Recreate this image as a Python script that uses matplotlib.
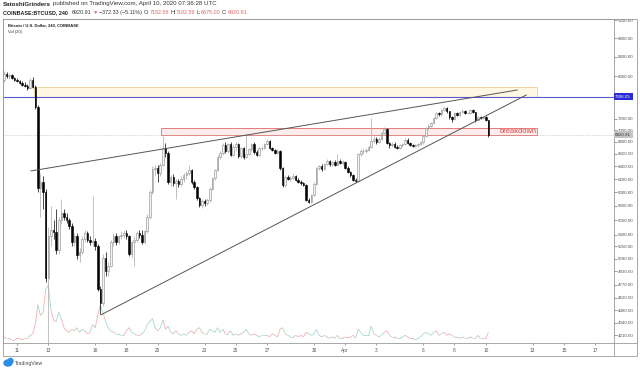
import numpy as np
import matplotlib
matplotlib.use("Agg")
import matplotlib.pyplot as plt
from matplotlib.patches import Rectangle, Ellipse
from matplotlib.collections import LineCollection
from matplotlib.lines import Line2D
from matplotlib.ticker import FixedLocator, FixedFormatter, NullLocator
from matplotlib.transforms import blended_transform_factory

plt.rcParams['font.family'] = ['Liberation Sans', 'DejaVu Sans']

# COINBASE:BTCUSD 4h candles, first bar Mar 10 04:00 UTC (one row per day)
opens = [
    7920, 8050, 8000, 8030, 7960,
    7930, 7900, 7870, 7840, 7810, 7780,
    7930, 7800, 7420, 6060, 6150, 6000,
    4850, 5380, 5470, 5440, 5200, 5600,
    5700, 5650, 5600, 5520, 5300, 5380,
    5130, 5180, 5340, 5420, 5330, 5300,
    5320, 5250, 4720, 4560, 5100, 4930,
    5000, 5300, 5380, 5300, 5380, 5400,
    5420, 5380, 5150, 5300, 5330, 5420,
    5400, 5300, 5450, 5650, 6000, 6350,
    6380, 6300, 6420, 6700, 6620, 6160,
    6240, 6135, 6165, 6120, 6200, 6270,
    6300, 6340, 6160, 6085, 5910, 5815,
    5870, 5850, 5880, 6050, 6210, 6343,
    6555, 6610, 6750, 6650, 6760, 6590,
    6720, 6760, 6570, 6700, 6550, 6600,
    6680, 6760, 6630, 6590, 6690, 6700,
    6760, 6810, 6700, 6660, 6620, 6650,
    6370, 6110, 6240, 6200, 6220, 6250,
    6190, 6160, 6135, 6110, 5890, 5860,
    5960, 6130, 6370, 6400, 6360, 6440,
    6480, 6430, 6470, 6420, 6480, 6450,
    6470, 6380, 6310, 6260, 6190, 6170,
    6600, 6640, 6650, 6660, 6720, 6820,
    6850, 6800, 6850, 6950, 7020, 6780,
    6740, 6770, 6720, 6700, 6740, 6760,
    6840, 6780, 6750, 6730, 6740, 6760,
    6790, 6900, 7030, 7080, 7120, 7220,
    7310, 7280, 7360, 7390, 7340, 7230,
    7200, 7300, 7270, 7330, 7350, 7300,
    7310, 7360, 7320, 7180, 7230, 7210,
    7230, 7182.56,
]
highs = [
    8100, 8080, 8060, 8050, 7990,
    7960, 7930, 7900, 7880, 7850, 7960,
    7980, 7830, 7450, 6300, 6250, 6050,
    5500, 5800, 5600, 5750, 5650, 5900,
    5750, 5700, 5630, 5560, 5420, 5420,
    5220, 5380, 5460, 5450, 5380, 5950,
    5360, 5280, 4760, 5150, 5180, 5050,
    5330, 5420, 5420, 5400, 5450, 5460,
    5460, 5400, 5320, 5380, 5450, 5460,
    5470, 5470, 5680, 6030, 6400, 6420,
    6420, 6460, 6900, 6780, 6650, 6260,
    6280, 6200, 6200, 6250, 6300, 6330,
    6420, 6360, 6180, 6100, 5930, 5900,
    5900, 5920, 6080, 6230, 6360, 6580,
    6640, 6780, 6800, 6780, 6790, 6760,
    6790, 6780, 6720, 6720, 6940, 6700,
    6780, 6790, 6660, 6710, 6730, 6780,
    6850, 6830, 6720, 6680, 6680, 6670,
    6390, 6260, 6270, 6250, 6290, 6270,
    6210, 6180, 6150, 6130, 5910, 5980,
    6150, 6390, 6420, 6430, 6460, 6520,
    6500, 6490, 6500, 6600, 6520, 6500,
    6490, 6400, 6330, 6280, 6220, 6620,
    6680, 6700, 6690, 6750, 7220, 6900,
    6880, 6880, 6970, 7050, 7030, 6800,
    6800, 6790, 6740, 6760, 6780, 6870,
    6860, 6800, 6770, 6760, 6780, 6810,
    6920, 7050, 7100, 7140, 7240, 7330,
    7330, 7380, 7420, 7410, 7350, 7250,
    7320, 7320, 7350, 7380, 7360, 7330,
    7380, 7370, 7330, 7250, 7260, 7240,
    7260, 7182.56,
]
lows = [
    7880, 7960, 7950, 7940, 7900,
    7880, 7850, 7820, 7790, 7740, 7760,
    7780, 7380, 6000, 5650, 5750, 4800,
    3860, 5250, 5350, 5150, 5150, 5550,
    5600, 5560, 5480, 5250, 5250, 5080,
    5050, 5150, 5300, 5300, 5260, 5250,
    5200, 4700, 4440, 4520, 4880, 4880,
    4980, 5250, 5260, 5280, 5340, 5360,
    5350, 5120, 5100, 5000, 5300, 5360,
    5280, 5280, 5420, 5620, 5980, 6250,
    6150, 6250, 6400, 6550, 6120, 6100,
    6100, 5900, 6080, 6100, 6150, 6200,
    6260, 6130, 6050, 5880, 5780, 5770,
    5800, 5820, 5860, 6030, 6190, 6320,
    6520, 6590, 6620, 6620, 6560, 6570,
    6640, 6540, 6530, 6520, 6530, 6580,
    6650, 6600, 6560, 6570, 6660, 6680,
    6740, 6680, 6640, 6600, 6600, 6340,
    6080, 6080, 6180, 6170, 6200, 6170,
    6140, 6110, 6090, 5870, 5850, 5850,
    5940, 6110, 6340, 6330, 6340, 6420,
    6400, 6400, 6400, 6400, 6430, 6420,
    6360, 6290, 6240, 6170, 6150, 6160,
    6560, 6600, 6610, 6640, 6700, 6780,
    6770, 6780, 6830, 6930, 6760, 6700,
    6720, 6690, 6680, 6680, 6720, 6740,
    6760, 6730, 6710, 6710, 6720, 6740,
    6770, 6880, 7000, 7050, 7100, 7200,
    7250, 7260, 7340, 7310, 7200, 7150,
    7180, 7250, 7250, 7310, 7280, 7280,
    7290, 7300, 7150, 7160, 7190, 7190,
    7170, 6875,
]
closes = [
    8050, 8000, 8030, 7960, 7930,
    7900, 7870, 7840, 7810, 7780, 7930,
    7800, 7420, 6060, 6150, 6000, 4850,
    5380, 5470, 5440, 5200, 5600, 5700,
    5650, 5600, 5520, 5300, 5380, 5130,
    5180, 5340, 5420, 5330, 5300, 5320,
    5250, 4720, 4560, 5100, 4930, 5000,
    5300, 5380, 5300, 5380, 5400, 5420,
    5380, 5150, 5300, 5330, 5420, 5400,
    5300, 5450, 5650, 6000, 6350, 6380,
    6300, 6420, 6700, 6620, 6160, 6240,
    6135, 6165, 6120, 6200, 6270, 6300,
    6340, 6160, 6085, 5910, 5815, 5870,
    5850, 5880, 6050, 6210, 6343, 6555,
    6610, 6750, 6650, 6760, 6590, 6720,
    6760, 6570, 6700, 6550, 6600, 6680,
    6760, 6630, 6590, 6690, 6700, 6760,
    6810, 6700, 6660, 6620, 6650, 6370,
    6110, 6240, 6200, 6220, 6250, 6190,
    6160, 6135, 6110, 5890, 5860, 5960,
    6130, 6370, 6400, 6360, 6440, 6480,
    6430, 6470, 6420, 6480, 6450, 6470,
    6380, 6310, 6260, 6190, 6170, 6600,
    6640, 6650, 6660, 6720, 6820, 6850,
    6800, 6850, 6950, 7020, 6780, 6740,
    6770, 6720, 6700, 6740, 6760, 6840,
    6780, 6750, 6730, 6740, 6760, 6790,
    6900, 7030, 7080, 7120, 7220, 7310,
    7280, 7360, 7390, 7340, 7230, 7200,
    7300, 7270, 7330, 7350, 7300, 7310,
    7360, 7320, 7180, 7230, 7210, 7230,
    7182.56, 6920.91,
]
# volume in thousand BTC
volumes = [
    4, 3, 3, 2, 2,
    3, 3, 2, 3, 3, 5,
    6, 12, 25, 18, 20, 35,
    38, 22, 15, 14, 20, 16,
    10, 8, 7, 9, 8, 10,
    7, 9, 8, 6, 7, 12,
    10, 18, 25, 20, 14, 10,
    8, 7, 6, 6, 5, 5,
    8, 10, 7, 6, 5, 5,
    6, 8, 12, 14, 16, 10,
    8, 10, 15, 9, 11, 7,
    6, 8, 6, 5, 6, 5,
    7, 8, 6, 9, 10, 7,
    6, 6, 9, 8, 7, 10,
    7, 9, 6, 6, 8, 5,
    6, 5, 6, 7, 9, 6,
    5, 6, 5, 4, 5, 5,
    5, 4, 6, 5, 4, 9,
    10, 6, 5, 4, 4, 5,
    4, 5, 4, 7, 6, 5,
    6, 9, 5, 4, 5, 4,
    3, 4, 3, 5, 3, 3,
    4, 4, 4, 5, 3, 9,
    7, 5, 5, 5, 11, 6,
    5, 4, 5, 7, 8, 5,
    4, 4, 3, 3, 4, 5,
    4, 3, 3, 2, 3, 4,
    6, 7, 6, 5, 7, 8,
    5, 6, 7, 5, 6, 5,
    4, 4, 3, 4, 3, 3,
    4, 3, 3, 5, 3, 3,
    3, 7,
]

# x axis: day number counted from Mar 0 (Apr 1 = 32)
date_ticks = [11, 13, 16, 18, 20, 23, 25, 27, 30, 32, 34, 37, 39, 41, 44, 46, 48]
date_labels = ['11', '13', '16', '18', '20', '23', '25', '27', '30', 'Apr',
               '3', '6', '8', '10', '13', '15', '17']
price_ticks = [9200, 8800, 8400, 8000, 7200, 7000, 6800, 6600, 6400, 6200, 6000,
               5800, 5600, 5400, 5250, 5090, 4930, 4770, 4620, 4480, 4340, 4210]

# drawings
resistance_level = 7606.05
last_price = 6920.91
resistance_zone = [12.09, 44.29, 7606.05, 7800]   # t0, t1, low, high
breakdown_zone = [20.2, 44.29, 6912, 7040]
upper_trend = [[11.89, 43.01], [6327, 7734]]
lower_trend = [[16.37, 43.59], [4427, 7639]]

W, H = 640, 370


def fx(px):
    return px / W


def fy(py):
    return 1 - py / H


fig = plt.figure(figsize=(6.4, 3.7), dpi=100)
fig.patch.set_facecolor('white')
ax = fig.add_axes([fx(3), fy(343), fx(614) - fx(3), fy(19) - fy(343)])

o = np.array(opens, float)
h = np.array(highs, float)
l = np.array(lows, float)
c = np.array(closes, float)
v = np.array(volumes, float)
t = 10 + 4 / 24 + np.arange(len(o)) / 6
up = c >= o

# volume line (bottom pane, axes fraction)
vt = ax.get_xaxis_transform()
pts = np.column_stack([t, v / 212.0])
segs = np.stack([pts[:-1], pts[1:]], axis=1)
vcol = ['#a9d8cf' if u else '#f2b0b0' for u in up[1:]]
ax.add_collection(LineCollection(segs, colors=vcol, linewidths=0.6,
                                 transform=vt, zorder=1))

# candles
ax.vlines(t[up], l[up], h[up], color='#a8a8a8', lw=0.5, zorder=3)
ax.vlines(t[~up], l[~up], h[~up], color='black', lw=0.5, zorder=3)
bot = np.minimum(o, c)
hgt = np.maximum(np.abs(c - o), 6)
ax.bar(t[up], hgt[up], bottom=bot[up], width=0.1, facecolor='#f4f4f4',
       edgecolor='#8a8a8a', linewidth=0.4, zorder=4)
ax.bar(t[~up], hgt[~up], bottom=bot[~up], width=0.1, facecolor='black',
       edgecolor='black', linewidth=0.4, zorder=4)

# zones and lines
t0, t1, lo, hi = resistance_zone
ax.add_patch(Rectangle((t0, lo), t1 - t0, hi - lo, facecolor='#fff6e3',
                       edgecolor='#f3cf98', lw=0.6, zorder=2))
t0, t1, lo, hi = breakdown_zone
ax.add_patch(Rectangle((t0, lo), t1 - t0, hi - lo, facecolor='#fdecec',
                       edgecolor='#e26a6a', lw=0.6, zorder=2))
ax.text(43.05, np.sqrt(lo * hi), 'breakdown', color='#e04848',
        fontsize=5.4, ha='center', va='center', zorder=6)
ax.axhline(resistance_level, color='#5a5ad0', lw=0.8, zorder=2)
ax.axhline(last_price, color='#c9a9a9', lw=0.5, ls=(0, (1, 1.5)), zorder=2)
ax.plot(upper_trend[0], upper_trend[1], color='#555555', lw=0.7, zorder=5)
ax.plot(lower_trend[0], lower_trend[1], color='#555555', lw=0.7, zorder=5)

# axes
ax.set_yscale('log')
ax.set_ylim(4128, 9225)
ax.set_xlim(10.1, 49.21)
ax.yaxis.tick_right()
ax.yaxis.set_major_locator(FixedLocator(price_ticks))
ax.yaxis.set_major_formatter(FixedFormatter(['%.2f' % p for p in price_ticks]))
ax.yaxis.set_minor_locator(NullLocator())
ax.set_xticks(date_ticks)
ax.set_xticklabels(date_labels)
ax.tick_params(axis='y', length=2, width=0.4, pad=1, labelsize=3.2,
               colors='#555555')
ax.tick_params(axis='x', length=1.5, width=0.4, pad=2, labelsize=3.4,
               colors='#555555')
for s in ax.spines.values():
    s.set_color('#9a9a9a')
    s.set_linewidth(0.6)

# price labels on the scale
bt = blended_transform_factory(ax.transAxes, ax.transData)
ax.text(1.002, resistance_level, '7606.05', transform=bt, fontsize=3.2,
        color='white', ha='left', va='center', clip_on=False, zorder=10,
        bbox=dict(boxstyle='square,pad=0.35', fc='#2b2bd6', ec='none'))
ax.text(1.002, last_price, '6920.91', transform=bt, fontsize=3.2,
        color='#333333', ha='left', va='center', clip_on=False, zorder=10,
        bbox=dict(boxstyle='square,pad=0.35', fc='#c4c4c4', ec='none'))

# outer frame
fig.add_artist(Rectangle((fx(3), fy(356)), fx(637) - fx(3), fy(19) - fy(356),
                         transform=fig.transFigure, fill=False,
                         edgecolor='#9a9a9a', lw=0.6))
fig.add_artist(Line2D([fx(614), fx(637)], [fy(343), fy(343)],
                      transform=fig.transFigure, color='#9a9a9a', lw=0.6))
fig.add_artist(Line2D([fx(614), fx(614)], [fy(343), fy(356)],
                      transform=fig.transFigure, color='#9a9a9a', lw=0.6))


# header text: pieces chained one after another (text, colour, weight, gap before)
def chain(x, y, parts, size):
    s, col, wt, _ = parts[0]
    prev = fig.text(fx(x), fy(y), s, fontsize=size, color=col, fontweight=wt,
                    ha='left', va='center')
    for s, col, wt, gap in parts[1:]:
        prev = ax.annotate(s, xy=(1, 0.5), xycoords=prev, xytext=(gap, 0),
                           textcoords='offset points', fontsize=size, color=col,
                           fontweight=wt, ha='left', va='center',
                           annotation_clip=False)


red = '#e06666'
ink = '#333333'
chain(3, 4, [('SatoshiGrinders', '#222222', 'bold', 0),
             ('published on TradingView.com, April 10, 2020 07:36:28 UTC',
              ink, 'normal', 1.2)], 4.4)
chain(3, 12.5, [('COINBASE:BTCUSD, 240', '#222222', 'bold', 0),
                ('6920.91', ink, 'normal', 2.6),
                ('\u25bc', red, 'normal', 1.0),
                ('\u2212372.33 (\u22125.11%)', ink, 'normal', 1.0),
                ('O:', ink, 'normal', 1.0), ('7182.56', red, 'normal', 0),
                ('H:', ink, 'normal', 1.0), ('7182.56', red, 'normal', 0),
                ('L:', ink, 'normal', 1.0), ('6875.00', red, 'normal', 0),
                ('C:', ink, 'normal', 1.0), ('6920.91', red, 'normal', 0)], 3.9)
fig.text(fx(8), fy(25.5), 'Bitcoin / U.S. Dollar, 240, COINBASE', fontsize=3.0,
         fontweight='bold', color='#222222', va='center')
fig.text(fx(8), fy(32.5), 'Vol (20)', fontsize=3.0, color=ink, va='center')

# TradingView mark
fig.add_artist(Ellipse((fx(8), fy(363)), fx(8), 6 / H, transform=fig.transFigure,
                       color='#2a8ee6'))
fig.add_artist(Ellipse((fx(10.5), fy(361)), fx(5), 5 / H, transform=fig.transFigure,
                       color='#2a8ee6'))
fig.text(fx(15), fy(363), 'TradingView', fontsize=3.6, color='#444444', va='center')

fig.savefig('out.png', dpi=100)
